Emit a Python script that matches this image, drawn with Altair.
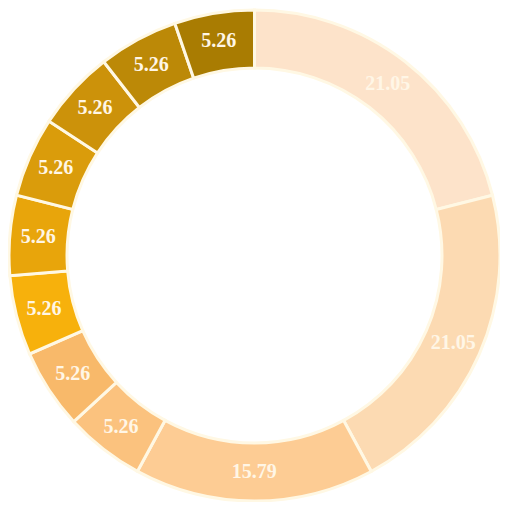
import altair as alt
import pandas as pd

labels = ["21.05", "21.05", "15.79", "5.26", "5.26", "5.26", "5.26", "5.26", "5.26", "5.26", "5.26"]
values = [21.05, 21.05, 15.79, 5.26, 5.26, 5.26, 5.26, 5.26, 5.26, 5.26, 5.26]
categories = ["s01", "s02", "s03", "s04", "s05", "s06", "s07", "s08", "s09", "s10", "s11"]
colors = ["#FDE3CA", "#FCDAB2", "#FDCC94", "#FBC27E", "#F8B96A", "#F7B10C",
          "#E8A50B", "#DA9C0B", "#CC920A", "#BC8907", "#A97C02"]

df = pd.DataFrame({"cat": categories, "value": values, "label": labels,
                   "order": list(range(len(values)))})

cx, cy = 246.5, 247.5
base = alt.Chart(df).encode(
    theta=alt.Theta("value:Q", stack=True),
    order=alt.Order("order:Q"),
)

arcs = base.mark_arc(innerRadius=187.5, outerRadius=245.5, stroke="#FFF8E4", strokeWidth=3,
                     x=cx, y=cy).encode(
    color=alt.Color("cat:N", scale=alt.Scale(domain=categories, range=colors), legend=None)
)

text = base.mark_text(radius=217, x=cx, y=cy, font="Liberation Serif", fontWeight="bold",
                      fontSize=20, color="#FFF6E6").encode(text="label:N")

chart = (arcs + text).properties(
    width=492, height=494, padding=0, autosize=alt.AutoSizeParams(type="none")
).configure_view(stroke=None).configure(background="white")

chart.save("out.html", embed_options={"renderer": "svg", "actions": False})
